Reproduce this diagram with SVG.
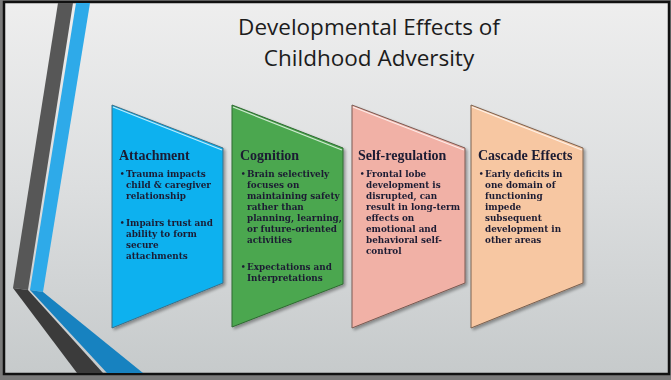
<svg xmlns="http://www.w3.org/2000/svg" width="671" height="380" viewBox="0 0 671 380">
  <defs>
    <linearGradient id="bg" x1="0" y1="0" x2="0" y2="1">
      <stop offset="0" stop-color="#eeeeee"/>
      <stop offset="0.5" stop-color="#dcdedf"/>
      <stop offset="1" stop-color="#c6cacb"/>
    </linearGradient>
    <filter id="shadow" x="-10%" y="-10%" width="125%" height="125%">
      <feGaussianBlur in="SourceAlpha" stdDeviation="1.5"/>
      <feOffset dx="1.5" dy="2" result="o"/>
      <feComponentTransfer><feFuncA type="linear" slope="0.35"/></feComponentTransfer>
      <feMerge><feMergeNode/><feMergeNode in="SourceGraphic"/></feMerge>
    </filter>
    <style>
      .title { font-family: "Open Sans", "Noto Sans", sans-serif; font-size: 22.5px; fill: #1c1c1c; text-anchor: middle; }
      .head { font-family: "Liberation Serif", serif; font-weight: bold; font-size: 14px; fill: #1b1b33; }
      .body { font-family: "DejaVu Serif Condensed", "Liberation Serif", serif; font-weight: bold; font-size: 9.8px; fill: #1b1b33; }
      .dot { font-family: "Liberation Serif", serif; font-weight: bold; font-size: 10px; fill: #1b1b33; }
      .hl { fill: none; stroke: #ffffff; stroke-opacity: 0.75; stroke-width: 1.2; }
    </style>
  </defs>

  <!-- slide background and frame -->
  <rect x="0" y="0" width="671" height="380" fill="#7a7a7a"/>
  <rect x="4" y="2" width="665" height="372" fill="url(#bg)" stroke="#111" stroke-width="2.5"/>

  <!-- left ribbon bands -->
  <g id="ribbon">
    <polygon points="58,3 73,3 28,290 13,288" fill="#575757"/>
    <polygon points="13,288 28,290 103,373 77,373" fill="#3b3b3b"/>
    <polygon points="76,3 90,3 43,292 30,290" fill="#2eaae9"/>
    <polygon points="30,290 43,292 143,373 107,373" fill="#1782c0"/>
  </g>

  <!-- title -->
  <g id="title">
    <text class="title" x="369" y="35">Developmental Effects of</text>
    <text class="title" x="369" y="66">Childhood Adversity</text>
  </g>

  <!-- Attachment -->
  <g id="attachment" filter="url(#shadow)">
    <polygon points="112,105 223,148 223,283 112,328" fill="#0db1ef" stroke="#3d6f86" stroke-width="1"/>
    <polyline class="hl" points="113,107 222,150"/>
    <text class="head" x="119" y="160">Attachment</text>
    <text class="dot" x="120.5" y="177">•</text>
    <text class="body" x="126" y="177">Trauma impacts</text>
    <text class="body" x="126" y="188">child &amp; caregiver</text>
    <text class="body" x="126" y="199">relationship</text>
    <text class="dot" x="120.5" y="226">•</text>
    <text class="body" x="126" y="226">Impairs trust and</text>
    <text class="body" x="126" y="237">ability to form</text>
    <text class="body" x="126" y="248">secure</text>
    <text class="body" x="126" y="258.5">attachments</text>
  </g>

  <!-- Cognition -->
  <g id="cognition" filter="url(#shadow)">
    <polygon points="232,105 343,148 343,284 232,327" fill="#4ca74f" stroke="#2f6a32" stroke-width="1"/>
    <polyline class="hl" points="233,107 342,150"/>
    <text class="head" x="240" y="160">Cognition</text>
    <text class="dot" x="241.5" y="177">•</text>
    <text class="body" x="247" y="177">Brain selectively</text>
    <text class="body" x="247" y="188">focuses on</text>
    <text class="body" x="247" y="199">maintaining safety</text>
    <text class="body" x="247" y="210">rather than</text>
    <text class="body" x="247" y="221">planning, learning,</text>
    <text class="body" x="247" y="232">or future-oriented</text>
    <text class="body" x="247" y="243">activities</text>
    <text class="dot" x="241.5" y="270">•</text>
    <text class="body" x="247" y="270">Expectations and</text>
    <text class="body" x="247" y="281">Interpretations</text>
  </g>

  <!-- Self-regulation -->
  <g id="self-regulation" filter="url(#shadow)">
    <polygon points="352,105 465,148 465,283 352,328" fill="#f1b1a6" stroke="#7a5a52" stroke-width="1"/>
    <polyline class="hl" points="353,107 464,150"/>
    <text class="head" x="358" y="160">Self-regulation</text>
    <text class="dot" x="360.5" y="177">•</text>
    <text class="body" x="366" y="177">Frontal lobe</text>
    <text class="body" x="366" y="188">development is</text>
    <text class="body" x="366" y="199">disrupted, can</text>
    <text class="body" x="366" y="210">result in long-term</text>
    <text class="body" x="366" y="221">effects on</text>
    <text class="body" x="366" y="232">emotional and</text>
    <text class="body" x="366" y="243">behavioral self-</text>
    <text class="body" x="366" y="254">control</text>
  </g>

  <!-- Cascade Effects -->
  <g id="cascade-effects" filter="url(#shadow)">
    <polygon points="471,105 583,148 583,283 471,328" fill="#f7c7a2" stroke="#7d6250" stroke-width="1"/>
    <polyline class="hl" points="472,107 582,150"/>
    <text class="head" x="478" y="160">Cascade Effects</text>
    <text class="dot" x="479.5" y="177">•</text>
    <text class="body" x="485" y="177">Early deficits in</text>
    <text class="body" x="485" y="188">one domain of</text>
    <text class="body" x="485" y="199">functioning</text>
    <text class="body" x="485" y="210">impede</text>
    <text class="body" x="485" y="221">subsequent</text>
    <text class="body" x="485" y="232">development in</text>
    <text class="body" x="485" y="243">other areas</text>
  </g>

  <!-- no connectors in this figure -->
  <g id="connectors"/>
</svg>
